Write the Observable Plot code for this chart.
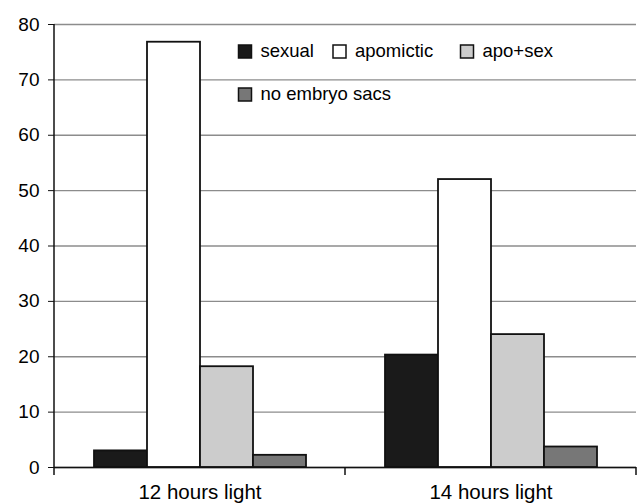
<!DOCTYPE html>
<html>
<head>
<meta charset="utf-8">
<script src="https://cdn.jsdelivr.net/npm/d3@7"></script>
<script src="https://cdn.jsdelivr.net/npm/@observablehq/plot@0.6"></script>
<style>
  html, body { margin: 0; padding: 0; background: #fff; }
  #chart { position: relative; width: 637px; height: 503px; }
  svg { font-family: "Liberation Sans", Arial, sans-serif; }
</style>
</head>
<body>
<div id="chart"></div>
<script>
const groups = ["12 hours light", "14 hours light"];
const series = ["sexual", "apomictic", "apo+sex", "no embryo sacs"];
const values12 = [3, 76.8, 18.2, 2.2];
const values14 = [20.3, 52, 24, 3.7];
const fills = ["#1a1a1a", "#ffffff", "#cccccc", "#777777"];
const yTicks = [0, 10, 20, 30, 40, 50, 60, 70, 80];

const data = [];
series.forEach((s, i) => data.push({group: groups[0], series: s, value: values12[i]}));
series.forEach((s, i) => data.push({group: groups[1], series: s, value: values14[i]}));

const plot = Plot.plot({
  width: 637,
  height: 503,
  marginLeft: 53,
  marginRight: 1,
  marginTop: 24,
  marginBottom: 36,
  style: {fontFamily: '"Liberation Sans", Arial, sans-serif', color: "#000", background: "#fff"},
  fx: {domain: groups, paddingInner: 0, paddingOuter: 0, label: null},
  x: {domain: series, paddingInner: 0, paddingOuter: 0.74, axis: null},
  y: {domain: [0, 80], label: null},
  color: {domain: series, range: fills},
  marks: [
    Plot.ruleY(yTicks, {y: d => d, stroke: "#8c8c8c", strokeWidth: 1.3}),
    Plot.barY(data, {fx: "group", x: "series", y: "value", fill: "series", stroke: "#111", strokeWidth: 1.8}),
    Plot.ruleY([0], {stroke: "#111", strokeWidth: 1.5}),
    Plot.axisY(yTicks, {tickSize: 6, tickPadding: 9, fontSize: 19, label: null, stroke: "#111"}),
    Plot.axisFx({anchor: "bottom", tickSize: 0, tickPadding: 17, fontSize: 20.5, label: null})
  ]
});

document.getElementById("chart").appendChild(plot);

// axis line and group boundary ticks from the plot's own scales
const svg = d3.select(plot);
const ys = plot.scale("y");
const fxs = plot.scale("fx");
const y0 = ys.apply(0), y80 = ys.apply(80);
const edges = groups.map(g => fxs.apply(g));
edges.push(fxs.apply(groups[groups.length - 1]) + fxs.bandwidth);
const deco = svg.append("g").attr("stroke", "#111").attr("stroke-width", 1.5);
deco.append("line").attr("x1", edges[0]).attr("x2", edges[0]).attr("y1", y80).attr("y2", y0);
edges.forEach(x => deco.append("line").attr("x1", x).attr("x2", x).attr("y1", y0).attr("y2", y0 + 8));

// legend inside the plot area
const legendRows = [[0, 1, 2], [3]];
const legendX = [238.5, 333, 460.5];
const legendY = [57, 100];
const lg = svg.append("g").attr("font-size", 18.5).attr("fill", "#000").attr("text-anchor", "start");
legendRows.forEach((row, r) => {
  row.forEach((si, c) => {
    const x = legendX[c], y = legendY[r];
    lg.append("rect").attr("x", x).attr("y", y - 12).attr("width", 13).attr("height", 13)
      .attr("fill", fills[si]).attr("stroke", "#111").attr("stroke-width", 1.5);
    lg.append("text").attr("x", x + 22).attr("y", y).attr("text-anchor", "start").text(series[si]);
  });
});
</script>
</body>
</html>
